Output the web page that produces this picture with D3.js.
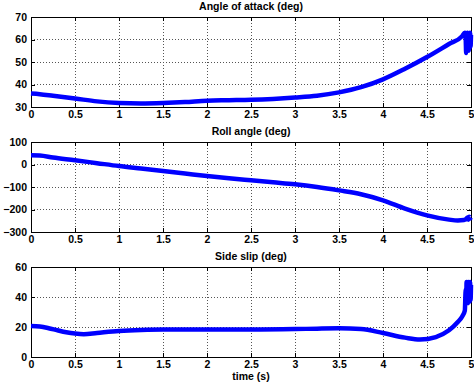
<!DOCTYPE html>
<html>
<head>
<meta charset="utf-8">
<script src="https://cdn.jsdelivr.net/npm/d3@7"></script>
<style>
  html, body { margin: 0; padding: 0; background: #fff; }
  svg { display: block; }
  text { font-family: "Liberation Sans", Arial, sans-serif; font-weight: bold; fill: #000; }
</style>
</head>
<body>
<svg id="chart" width="474" height="383"></svg>
<script>
// Angle of attack (deg) vs time (s)
const aoaTime = [0,0.1,0.25,0.5,0.75,1,1.25,1.5,1.75,2,2.25,2.5,2.75,3,3.25,3.5,3.75,4,4.25,4.5,4.75,4.9,4.93,
  4.94,4.945,4.95,4.955,4.96,4.965,4.97,4.975,4.98,4.985,4.99,4.995,5];
const aoaValues = [36,35.7,35,33.8,32.5,31.8,31.6,31.8,32.2,32.8,33,33.2,33.6,34.2,35,36.5,38.8,42.3,47,52.2,58,61.5,63,
  60,54,62,55,63,56,62,55,62,56,63,57,62];

// Roll angle (deg) vs time (s)
const rollTime = [0,0.1,0.25,0.5,0.75,1,1.25,1.5,1.75,2,2.25,2.5,2.75,3,3.25,3.5,3.75,4,4.25,4.5,4.75,4.85,4.92,
  4.95,4.96,4.97,4.98,4.99,5];
const rollValues = [41,40,31,19,6,-7,-18,-29,-40,-51,-61,-70,-79,-88,-100,-115,-132,-159,-196,-226,-245,-249,-247,
  -240,-235,-245,-232,-240,-236];

// Side slip (deg) vs time (s)
const slipTime = [0,0.1,0.2,0.3,0.4,0.5,0.6,0.75,1,1.25,1.5,2,2.5,3,3.25,3.5,3.75,4,4.25,4.42,4.6,4.75,4.85,4.9,4.93,
  4.94,4.945,4.95,4.955,4.96,4.965,4.97,4.975,4.98,4.985,4.99,4.995,5];
const slipValues = [20.7,20.3,19.2,17.8,16.5,15.6,15.2,16,17.3,18,18.3,18.3,18.3,18.6,18.9,19.1,18.7,16,12.9,11.6,13.3,17.8,23.3,27,31,
  45,36,50,37,49,36,50,38,49,37,50,38,48];

const xTicks = [0,0.5,1,1.5,2,2.5,3,3.5,4,4.5,5];
const aoaTicks = [30,40,50,60,70];
const rollTicks = [-300,-200,-100,0,100];
const slipTicks = [0,20,40,60];

const panels = [
  { title: "Angle of attack (deg)", t: aoaTime, v: aoaValues, domain: [30,70], ticks: aoaTicks, top: 17 },
  { title: "Roll angle (deg)", t: rollTime, v: rollValues, domain: [-300,100], ticks: rollTicks, top: 142 },
  { title: "Side slip (deg)", t: slipTime, v: slipValues, domain: [0,60], ticks: slipTicks, top: 267 }
];

const svg = d3.select("#chart");
const left = 31, right = 471, plotH = 90;
const x = d3.scaleLinear().domain([0,5]).range([left, right]);

panels.forEach(p => {
  const y = d3.scaleLinear().domain(p.domain).range([p.top + plotH, p.top]);
  const g = svg.append("g");

  // dotted grid
  g.selectAll(".vg").data(xTicks.slice(1, -1)).join("line")
    .attr("x1", d => x(d)).attr("x2", d => x(d))
    .attr("y1", p.top).attr("y2", p.top + plotH)
    .attr("stroke", "#555").attr("stroke-width", 1).attr("stroke-dasharray", "1,2")
    .attr("shape-rendering", "crispEdges");
  g.selectAll(".hg").data(p.ticks.slice(1, -1)).join("line")
    .attr("x1", left).attr("x2", right)
    .attr("y1", d => y(d)).attr("y2", d => y(d))
    .attr("stroke", "#555").attr("stroke-width", 1).attr("stroke-dasharray", "1,2")
    .attr("shape-rendering", "crispEdges");

  // axes: labels outside, inward ticks on all four sides
  const bottom = g.append("g").attr("transform", `translate(0,${p.top + plotH})`)
    .call(d3.axisBottom(x).tickValues(xTicks).tickSizeInner(-4).tickSizeOuter(0).tickPadding(4)
      .tickFormat(d => d3.format("")(d)));
  const topAx = g.append("g").attr("transform", `translate(0,${p.top})`)
    .call(d3.axisTop(x).tickValues(xTicks).tickSizeInner(-4).tickSizeOuter(0).tickFormat(""));
  const leftAx = g.append("g").attr("transform", `translate(${left},0)`)
    .call(d3.axisLeft(y).tickValues(p.ticks).tickSizeInner(-4).tickSizeOuter(0).tickPadding(4));
  const rightAx = g.append("g").attr("transform", `translate(${right},0)`)
    .call(d3.axisRight(y).tickValues(p.ticks).tickSizeInner(-4).tickSizeOuter(0).tickFormat(""));
  [bottom, topAx, leftAx, rightAx].forEach(a => {
    a.selectAll(".domain").remove();
    a.selectAll("line").attr("stroke", "#000").attr("shape-rendering", "crispEdges");
    a.selectAll("text").attr("font-size", 10.5).attr("font-family", "Liberation Sans, Arial, sans-serif")
      .attr("font-weight", "bold").attr("fill", "#000");
  });
  bottom.selectAll("text").attr("dy", "0.71em").attr("y", 4);

  // box
  g.append("rect").attr("x", left).attr("y", p.top).attr("width", right - left).attr("height", plotH)
    .attr("fill", "none").attr("stroke", "#000").attr("stroke-width", 1).attr("shape-rendering", "crispEdges");

  // series line
  const pts = p.t.map((t, i) => [t, p.v[i]]);
  g.append("path").datum(pts)
    .attr("d", d3.line().x(d => x(d[0])).y(d => y(d[1])).curve(d3.curveMonotoneX))
    .attr("fill", "none").attr("stroke", "#0000ff").attr("stroke-width", 4.5)
    .attr("stroke-linejoin", "round");

  // title
  svg.append("text").attr("x", (left + right) / 2).attr("y", p.top - 7)
    .attr("text-anchor", "middle").attr("font-size", 10.5).text(p.title);
});

svg.append("text").attr("x", (left + right) / 2).attr("y", 380)
  .attr("text-anchor", "middle").attr("font-size", 10.5).text("time (s)");
</script>
</body>
</html>
